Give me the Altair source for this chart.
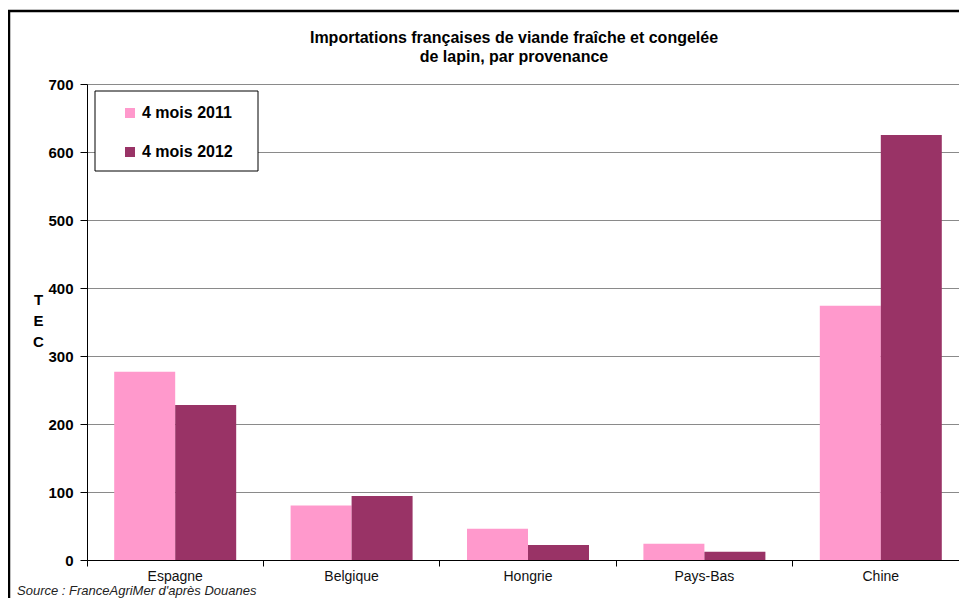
import altair as alt
import pandas as pd

categories = ["Espagne", "Belgique", "Hongrie", "Pays-Bas", "Chine"]
series = ["4 mois 2011", "4 mois 2012"]
v2011 = [277, 80, 46, 24, 374]
v2012 = [228, 94, 22, 12, 625]
colors = ["#FF99CC", "#993366"]
y_ticks = [0, 100, 200, 300, 400, 500, 600, 700]
title_lines = ["Importations françaises de viande fraîche et congelée",
               "de lapin, par provenance"]
source_text = "Source : FranceAgriMer d'après Douanes"

rows = []
for c, a, b in zip(categories, v2011, v2012):
    rows.append({"pays": c, "periode": series[0], "tec": a})
    rows.append({"pays": c, "periode": series[1], "tec": b})
df = pd.DataFrame(rows)

FONT = "Liberation Sans"
STEP_RANGE = 882

bars = alt.Chart(df).mark_bar().encode(
    x=alt.X("pays:N", sort=categories,
            scale=alt.Scale(range=[0, STEP_RANGE], paddingInner=0, paddingOuter=0),
            axis=alt.Axis(title=None, bandPosition=0,
                          labelAngle=0, labelFont=FONT, labelFontSize=14,
                          labelColor="#111", labelPadding=3, tickSize=6,
                          tickColor="black", domainColor="black", grid=False)),
    xOffset=alt.XOffset("periode:N", sort=series,
                        scale=alt.Scale(paddingInner=0, paddingOuter=0.446)),
    y=alt.Y("tec:Q", scale=alt.Scale(domain=[0, 700], nice=False),
            axis=alt.Axis(values=y_ticks, title=["T", "E", "C"], titleAngle=0,
                          titleX=-49, titleY=208, titleAlign="center",
                          titleBaseline="top", titleFont=FONT, titleFontSize=15,
                          titleFontWeight="bold", titleLineHeight=21,
                          titleColor="black",
                          labelFont=FONT, labelFontSize=15, labelFontWeight="bold",
                          labelColor="black", labelPadding=7, tickSize=7,
                          tickColor="black", domainColor="black",
                          gridColor="#8a8a8a", gridWidth=1)),
    color=alt.Color("periode:N", sort=series,
                    scale=alt.Scale(domain=series, range=colors),
                    legend=alt.Legend(title=None, orient="none", legendX=35,
                                      legendY=21, symbolType="square",
                                      symbolSize=100, symbolStrokeWidth=0,
                                      labelFont=FONT, labelFontSize=16,
                                      labelFontWeight="bold", labelColor="black",
                                      labelOffset=4, rowPadding=23, padding=0)),
)

one = pd.DataFrame({"k": [0]})

legend_box = alt.Chart(one).mark_rect(fill="white", stroke="black",
                                      strokeWidth=1).encode(
    x=alt.value(8), x2=alt.value(171), y=alt.value(7), y2=alt.value(87))

outer_border = alt.Chart(one).mark_rect(fill=None, stroke="black",
                                        strokeWidth=2.5, clip=False).encode(
    x=alt.value(-78), x2=alt.value(1100), y=alt.value(-73), y2=alt.value(900))

title = alt.Chart(one).mark_text(text=title_lines, font=FONT, fontSize=16,
                                 fontWeight="bold", color="black",
                                 align="center", baseline="alphabetic",
                                 lineHeight=19).encode(
    x=alt.value(427), y=alt.value(-41))

source = alt.Chart(one).mark_text(text=source_text, font=FONT, fontSize=13,
                                  fontStyle="italic", color="#222",
                                  align="left", baseline="alphabetic").encode(
    x=alt.value(-70), y=alt.value(511))

chart = alt.layer(bars, legend_box, title, source, outer_border).properties(
    width=872, height=476,
    autosize=alt.AutoSizeParams(type="none"),
    padding={"left": 79, "top": 76, "right": 0, "bottom": 38},
).configure_view(stroke=None).configure(background="white")

chart.save("out.html", embed_options={"renderer": "svg", "actions": False})
